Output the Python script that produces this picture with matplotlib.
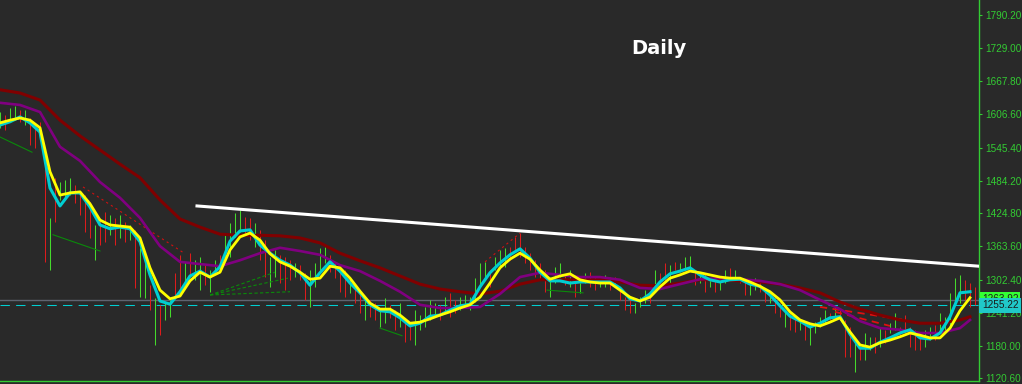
import numpy as np
import matplotlib
matplotlib.use('Agg')
import matplotlib.pyplot as plt
from matplotlib.transforms import blended_transform_factory

# --- chart data (daily bars, one per day index) ---
bar_high = [
    1611, 1605, 1618, 1622, 1615, 1615, 1600, 1587, 1593, 1537,
    1416, 1490, 1482, 1486, 1490, 1477, 1464, 1458, 1445, 1403,
    1416, 1427, 1421, 1416, 1421, 1409, 1403, 1394, 1361, 1342,
    1292, 1269, 1256, 1259, 1265, 1315, 1348, 1335, 1351, 1338,
    1344, 1329, 1320, 1338, 1348, 1388, 1407, 1425, 1431, 1418,
    1416, 1407, 1394, 1375, 1344, 1357, 1348, 1344, 1338, 1333,
    1329, 1315, 1320, 1333, 1361, 1362, 1348, 1335, 1326, 1320,
    1307, 1289, 1278, 1270, 1265, 1259, 1246, 1269, 1256, 1246,
    1259, 1228, 1224, 1246, 1237, 1252, 1265, 1259, 1256, 1270,
    1278, 1265, 1270, 1274, 1270, 1305, 1333, 1335, 1320, 1344,
    1357, 1361, 1362, 1381, 1388, 1362, 1351, 1338, 1333, 1320,
    1307, 1326, 1333, 1310, 1320, 1302, 1296, 1315, 1316, 1307,
    1302, 1311, 1307, 1307, 1289, 1270, 1265, 1259, 1270, 1283,
    1274, 1320, 1315, 1333, 1329, 1335, 1333, 1344, 1346, 1320,
    1315, 1315, 1302, 1302, 1298, 1320, 1324, 1320, 1307, 1302,
    1296, 1305, 1298, 1283, 1278, 1270, 1259, 1246, 1241, 1234,
    1228, 1219, 1215, 1224, 1234, 1246, 1241, 1252, 1246, 1228,
    1215, 1186, 1178, 1204, 1197, 1197, 1215, 1210, 1222, 1241,
    1215, 1237, 1215, 1210, 1204, 1210, 1215, 1219, 1241, 1234,
    1278, 1305, 1311, 1302, 1296, 1289,
]
bar_low = [
    1582, 1578, 1593, 1596, 1593, 1587, 1550, 1545, 1560, 1335,
    1320, 1409, 1449, 1453, 1458, 1444, 1421, 1390, 1379, 1338,
    1366, 1372, 1385, 1366, 1379, 1372, 1375, 1287, 1270, 1269,
    1246, 1182, 1200, 1228, 1234, 1270, 1283, 1298, 1307, 1302,
    1283, 1292, 1280, 1316, 1320, 1344, 1344, 1381, 1390, 1388,
    1375, 1362, 1338, 1307, 1289, 1307, 1296, 1283, 1302, 1307,
    1302, 1265, 1252, 1289, 1320, 1333, 1316, 1305, 1280, 1270,
    1278, 1259, 1241, 1228, 1234, 1228, 1215, 1222, 1232, 1210,
    1215, 1188, 1191, 1182, 1210, 1215, 1228, 1234, 1228, 1241,
    1234, 1241, 1246, 1252, 1246, 1261, 1289, 1302, 1289, 1320,
    1326, 1326, 1338, 1357, 1344, 1333, 1320, 1307, 1302, 1280,
    1270, 1296, 1307, 1292, 1289, 1270, 1278, 1296, 1289, 1283,
    1289, 1289, 1283, 1289, 1265, 1246, 1241, 1241, 1252, 1259,
    1259, 1283, 1289, 1302, 1296, 1320, 1316, 1320, 1324, 1292,
    1296, 1280, 1289, 1280, 1283, 1296, 1302, 1302, 1296, 1274,
    1274, 1283, 1280, 1261, 1259, 1241, 1234, 1215, 1210, 1206,
    1210, 1191, 1182, 1204, 1215, 1222, 1228, 1234, 1228, 1160,
    1160, 1132, 1154, 1154, 1173, 1167, 1178, 1186, 1204, 1210,
    1197, 1204, 1178, 1173, 1173, 1178, 1191, 1191, 1204, 1210,
    1210, 1259, 1259, 1265, 1252, 1256,
]
# 1 = up day (green), 0 = down day (red)
bar_up = [
    1, 0, 1, 1, 0, 1, 0, 0, 0, 0,
    1, 0, 1, 1, 1, 0, 0, 0, 0, 1,
    0, 0, 1, 0, 1, 0, 1, 0, 1, 1,
    0, 1, 0, 1, 1, 0, 0, 1, 0, 1,
    1, 0, 1, 1, 0, 1, 1, 1, 1, 0,
    0, 1, 0, 0, 1, 1, 0, 0, 0, 1,
    0, 0, 1, 1, 1, 1, 0, 0, 0, 0,
    1, 0, 0, 1, 0, 0, 1, 1, 0, 0,
    1, 0, 0, 1, 1, 1, 1, 1, 0, 1,
    0, 0, 1, 1, 1, 1, 1, 1, 0, 1,
    1, 1, 0, 0, 0, 0, 0, 0, 0, 0,
    1, 1, 1, 0, 1, 0, 1, 1, 0, 0,
    1, 1, 0, 0, 0, 0, 0, 1, 1, 1,
    0, 1, 0, 0, 1, 0, 1, 1, 1, 0,
    1, 0, 1, 0, 1, 1, 0, 1, 0, 0,
    1, 1, 0, 0, 1, 0, 0, 1, 0, 0,
    1, 0, 1, 1, 1, 1, 0, 1, 0, 0,
    0, 1, 0, 1, 1, 0, 1, 0, 1, 1,
    0, 0, 0, 0, 0, 1, 1, 0, 1, 1,
    1, 1, 1, 0, 0, 0,
]

# fast moving averages, sampled every 2 days
fast_t = list(range(0, 195, 2))
ma_cyan = [
    1587, 1593, 1602, 1591, 1574, 1471, 1438, 1462, 1462, 1436,
    1403, 1396, 1399, 1396, 1372, 1311, 1263, 1257, 1280, 1309,
    1318, 1307, 1326, 1373, 1392, 1394, 1366, 1351, 1338, 1329,
    1315, 1292, 1315, 1335, 1318, 1296, 1278, 1256, 1245, 1243,
    1232, 1217, 1222, 1235, 1237, 1246, 1254, 1257, 1289, 1315,
    1333, 1348, 1359, 1342, 1316, 1300, 1300, 1296, 1298, 1298,
    1298, 1298, 1287, 1267, 1263, 1276, 1298, 1313, 1318, 1324,
    1311, 1302, 1298, 1302, 1303, 1294, 1290, 1274, 1254, 1235,
    1226, 1215, 1222, 1232, 1234, 1202, 1176, 1176, 1187, 1195,
    1204, 1210, 1195, 1193, 1204, 1234, 1278, 1280,
]
ma_yellow = [
    1591, 1596, 1600, 1596, 1582, 1501, 1458, 1462, 1464, 1442,
    1412, 1403, 1401, 1399, 1379, 1324, 1283, 1267, 1272, 1300,
    1316, 1307, 1316, 1357, 1381, 1388, 1375, 1350, 1335, 1327,
    1316, 1303, 1305, 1327, 1324, 1305, 1281, 1259, 1248, 1248,
    1237, 1222, 1224, 1230, 1237, 1243, 1250, 1256, 1270, 1296,
    1324, 1340, 1351, 1340, 1320, 1303, 1309, 1313, 1302, 1298,
    1296, 1296, 1283, 1270, 1263, 1270, 1289, 1305, 1311, 1318,
    1315, 1311, 1307, 1305, 1305, 1298, 1290, 1280, 1265, 1243,
    1228, 1221, 1217, 1224, 1232, 1206, 1182, 1178, 1186, 1191,
    1197, 1204, 1200, 1195, 1195, 1213, 1245, 1269,
]

# slow moving averages, sampled every 4 days
slow_t = list(range(0, 193, 4)) + [194]
ma_purple = [
    1628, 1624, 1611, 1547, 1521, 1482, 1453, 1416, 1364, 1335,
    1331, 1327, 1338, 1351, 1361, 1355, 1348, 1329, 1318, 1300,
    1280, 1256, 1250, 1250, 1252, 1276, 1307, 1315, 1311, 1307,
    1307, 1302, 1287, 1285, 1294, 1303, 1305, 1303, 1300, 1294,
    1283, 1265, 1248, 1226, 1213, 1210, 1204, 1204, 1213, 1228,
]
ma_maroon = [
    1652, 1646, 1633, 1596, 1567, 1541, 1515, 1490, 1449, 1414,
    1399, 1386, 1384, 1384, 1383, 1379, 1370, 1351, 1337, 1324,
    1309, 1294, 1285, 1280, 1276, 1281, 1294, 1302, 1302, 1302,
    1302, 1298, 1292, 1291, 1296, 1302, 1302, 1300, 1298, 1294,
    1287, 1278, 1261, 1248, 1237, 1228, 1222, 1222, 1228, 1234,
]

# drawn objects: (day0, price0, day1, price1)
trend_line = (39.4, 1438, 195.8, 1327)
fractal_green = [(0.0, 1565, 6.4, 1537), (10.6, 1385, 20.0, 1355),
                 (76.0, 1213, 80.4, 1199), (109.4, 1283, 116.6, 1278)]
fan_green = [(42.0, 1274, 55.0, 1316), (42.0, 1274, 57.6, 1305),
             (42.0, 1274, 58.0, 1280)]
fractal_red = [(16.6, 1473, 37.0, 1350), (97.0, 1335, 104.0, 1388)]
channel_red = [(164.0, 1252, 181.0, 1228), (167.0, 1243, 178.0, 1217)]

bid_price = 1263.92
ask_price = 1255.22
price_ticks = [1790.20, 1729.00, 1667.80, 1606.60, 1545.40, 1484.20,
               1424.80, 1363.60, 1302.40, 1241.20, 1180.00, 1120.60]

BG = '#292929'
AXIS_GREEN = '#33cc33'
BAR_GREEN = '#45d92c'
BAR_RED = '#dd1c1c'
CYAN = '#00ced1'


def plot_chart():
    plt.rcParams['font.family'] = ['Liberation Sans', 'DejaVu Sans']
    fig = plt.figure(figsize=(10.22, 3.84), dpi=100, facecolor=BG)
    ax = fig.add_axes([0, 3 / 384, 979 / 1022, 381 / 384])
    ax.set_facecolor(BG)

    # price bars
    days = np.arange(len(bar_high))
    colors = [BAR_GREEN if u else BAR_RED for u in bar_up]
    ax.vlines(days, bar_low, bar_high, colors=colors, linewidth=0.75, zorder=2)

    # bid / ask lines
    ax.axhline(bid_price, color='#5f6470', linewidth=1.0, zorder=1)
    ax.axhline(ask_price, color=CYAN, linewidth=0.75, dashes=(9, 6), zorder=1)

    # moving averages
    ax.plot(slow_t, ma_maroon, color='#800000', linewidth=2.2, zorder=3)
    ax.plot(slow_t, ma_purple, color='#800080', linewidth=1.9, zorder=3)
    ax.plot(fast_t, ma_cyan, color=CYAN, linewidth=2.2, zorder=4)
    ax.plot(fast_t, ma_yellow, color='#ffff00', linewidth=2.0, zorder=5)

    # drawn objects
    for t0, p0, t1, p1 in fractal_green:
        ax.plot([t0, t1], [p0, p1], color='#0a8a0a', linewidth=0.8, zorder=2)
    for t0, p0, t1, p1 in fan_green:
        ax.plot([t0, t1], [p0, p1], color='#0a8a0a', linewidth=0.8,
                dashes=(3, 2), zorder=2)
    for t0, p0, t1, p1 in fractal_red:
        ax.plot([t0, t1], [p0, p1], color='#d01010', linewidth=0.8,
                dashes=(2, 3), zorder=2)
    for t0, p0, t1, p1 in channel_red:
        ax.plot([t0, t1], [p0, p1], color='#e01010', linewidth=1.3,
                dashes=(4, 3), zorder=2)
    t0, p0, t1, p1 = trend_line
    ax.plot([t0, t1], [p0, p1], color='white', linewidth=2.2, zorder=6)

    ax.set_xlim(0, 195.8)
    ax.set_ylim(1115.6, 1817.3)
    ax.set_xticks([])
    ax.yaxis.tick_right()
    ax.set_yticks(price_ticks)
    ax.set_yticklabels([f'{p:.2f}' for p in price_ticks])
    ax.tick_params(axis='y', colors=AXIS_GREEN, direction='out', length=2.5,
                   width=0.8, pad=2, labelsize=7.2)
    for side in ['left', 'top']:
        ax.spines[side].set_visible(False)
    for side in ['right', 'bottom']:
        ax.spines[side].set_color(AXIS_GREEN)
        ax.spines[side].set_linewidth(1.0)

    # price labels on the scale (the ask box sits over the bid box, as in the terminal)
    trans = blended_transform_factory(ax.transAxes, ax.transData)
    ax.text(1.003, bid_price + 3, f'{bid_price:.2f}', transform=trans, clip_on=False,
            fontsize=7.2, color='#1a1a1a', va='center', ha='left', zorder=10,
            bbox=dict(boxstyle='square,pad=0.2', fc='#33ff33', ec='none'))
    ax.text(1.003, ask_price, f'{ask_price:.2f}', transform=trans, clip_on=False,
            fontsize=7.2, color='#1a1a1a', va='center', ha='left', zorder=11,
            bbox=dict(boxstyle='square,pad=0.25', fc='#20c8c8', ec='none'))

    fig.text(659 / 1022, 1 - 48 / 384, 'Daily', color='white', fontsize=14,
             fontweight='bold', family='DejaVu Sans', ha='center', va='center')

    fig.savefig('out.png', dpi=100, facecolor=BG)


if __name__ == '__main__':
    plot_chart()
